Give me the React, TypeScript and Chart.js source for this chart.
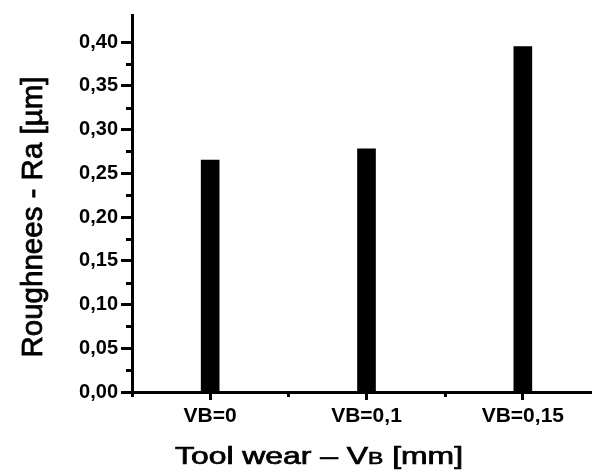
import React, { useEffect, useRef } from "react";
import { Chart, registerables } from "chart.js";

Chart.register(...registerables);

const categories = ["VB=0", "VB=0,1", "VB=0,15"];
const roughnessRa = [0.265, 0.278, 0.395];
const yMajorTicks = [0, 0.05, 0.1, 0.15, 0.2, 0.25, 0.3, 0.35, 0.4];
const yMinorTicks = [0.025, 0.075, 0.125, 0.175, 0.225, 0.275, 0.325, 0.375];
const xMinorTicks = [0.5, 1.5];
const yAxisMax = 0.431;
const yTitle = "Roughnees - Ra [µm]";
const xTitleParts = ["Tool wear \u2013 V", "B", " [mm]"];

const FONT = "'Liberation Sans', Arial, Helvetica, sans-serif";

const decorPlugin = {
  id: "decor",
  afterDraw(chart: any) {
    const ctx = chart.ctx as CanvasRenderingContext2D;
    const xs = chart.scales.x;
    const ys = chart.scales.y;
    const { left, bottom } = chart.chartArea;
    ctx.save();
    ctx.strokeStyle = "#000";
    ctx.lineWidth = 3;
    ctx.beginPath();
    yMinorTicks.forEach((v) => {
      const py = Math.round(ys.getPixelForValue(v)) + 0.5;
      ctx.moveTo(left - 6, py);
      ctx.lineTo(left, py);
    });
    xMinorTicks.forEach((v) => {
      const px = Math.round(xs.getPixelForValue(v)) + 0.5;
      ctx.moveTo(px, bottom);
      ctx.lineTo(px, bottom + 5);
    });
    ctx.moveTo(left + 0.5, bottom);
    ctx.lineTo(left + 0.5, bottom + 5);
    ctx.stroke();
    ctx.restore();

    // x title (text horizontally widened like the reference)
    ctx.save();
    ctx.fillStyle = "#000";
    ctx.strokeStyle = "#000";
    ctx.lineWidth = 0.7;
    ctx.textBaseline = "alphabetic";
    ctx.textAlign = "left";
    const fonts = [`23px ${FONT}`, `16.5px ${FONT}`, `23px ${FONT}`];
    let w = 0;
    const widths = xTitleParts.map((t, i) => {
      ctx.font = fonts[i];
      const m = ctx.measureText(t).width;
      w += m;
      return m;
    });
    const targetWidth = 288;
    const sx = targetWidth / w;
    const cx = 319;
    ctx.translate(cx - targetWidth / 2, 464);
    ctx.scale(sx, 1);
    let off = 0;
    xTitleParts.forEach((t, i) => {
      ctx.font = fonts[i];
      ctx.fillText(t, off, 0);
      ctx.strokeText(t, off, 0);
      off += widths[i];
    });
    ctx.restore();

    // y title
    ctx.save();
    ctx.fillStyle = "#000";
    ctx.strokeStyle = "#000";
    ctx.lineWidth = 0.8;
    ctx.font = `29.5px ${FONT}`;
    ctx.textAlign = "center";
    ctx.textBaseline = "alphabetic";
    ctx.translate(41.5, 217);
    ctx.rotate(-Math.PI / 2);
    ctx.fillText(yTitle, 0, 0);
    ctx.strokeText(yTitle, 0, 0);
    ctx.restore();
  },
};

export default function App() {
  const ref = useRef<HTMLCanvasElement | null>(null);

  useEffect(() => {
    if (!ref.current) return;
    const chart = new Chart(ref.current, {
      type: "bar",
      data: {
        labels: categories,
        datasets: [
          {
            data: roughnessRa,
            backgroundColor: "#000",
            borderWidth: 0,
            barThickness: 18,
          },
        ],
      },
      options: {
        animation: false,
        responsive: false,
        devicePixelRatio: 1,
        layout: { padding: { top: 12, left: 0, right: 0, bottom: 0 } },
        plugins: {
          legend: { display: false },
          tooltip: { enabled: false },
          title: { display: false },
        },
        scales: {
          x: {
            offset: true,
            grid: {
              display: true,
              offset: false,
              drawOnChartArea: false,
              drawTicks: true,
              tickLength: 8,
              tickWidth: 3,
              tickColor: "#000",
            },
            border: { display: true, width: 3, color: "#000" },
            ticks: {
              color: "#000",
              padding: 4,
              maxRotation: 0,
              autoSkip: false,
              font: { family: FONT, size: 21, weight: "bold" },
            },
            afterFit: (scale: any) => {
              scale.height = 80;
            },
          },
          y: {
            min: 0,
            max: yAxisMax,
            grid: {
              display: true,
              drawOnChartArea: false,
              drawTicks: true,
              tickLength: 11,
              tickWidth: 3,
              tickColor: "#000",
            },
            border: { display: true, width: 3, color: "#000" },
            ticks: {
              color: "#000",
              padding: 3,
              font: { family: FONT, size: 20, weight: "bold" },
              callback: (v: any) => Number(v).toFixed(2).replace(".", ","),
            },
            afterBuildTicks: (scale: any) => {
              scale.ticks = yMajorTicks.map((v) => ({ value: v }));
            },
            afterFit: (scale: any) => {
              scale.width = 132;
            },
          },
        },
      },
      plugins: [decorPlugin],
    } as any);
    return () => chart.destroy();
  }, []);

  return (
    <div
      style={{
        position: "absolute",
        left: 0,
        top: 0,
        width: 592,
        height: 472,
        overflow: "hidden",
        background: "#fff",
      }}
    >
      <canvas
        ref={ref}
        width={601}
        height={472}
        style={{ display: "block", width: 601, height: 472 }}
      />
    </div>
  );
}
